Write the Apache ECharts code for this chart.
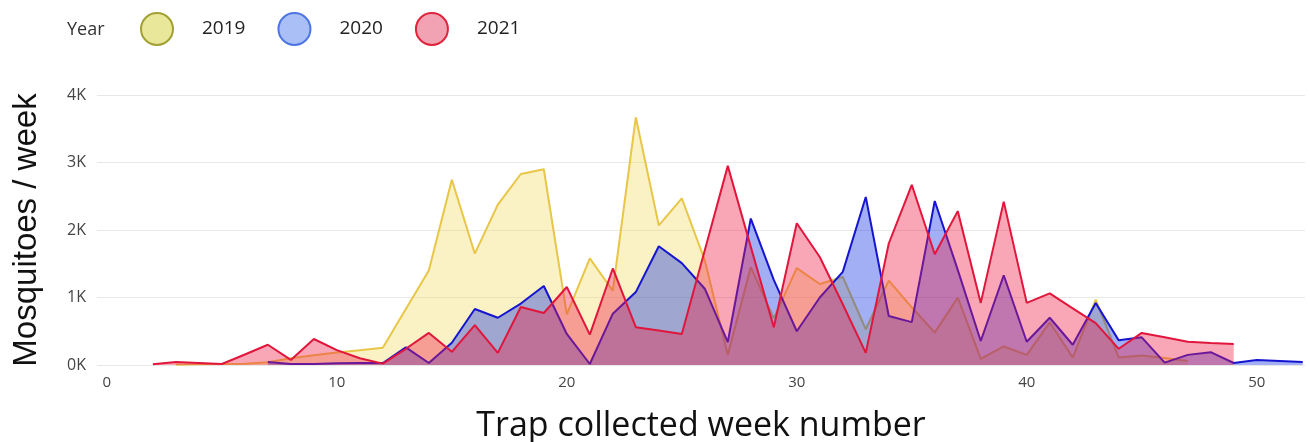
<!DOCTYPE html>
<html>
<head>
<meta charset="utf-8">
<script src="https://cdn.jsdelivr.net/npm/echarts@6/dist/echarts.min.js"></script>
<style>
  html, body { margin: 0; padding: 0; background: #ffffff; }
  #chart { width: 1310px; height: 442px; }
</style>
</head>
<body>
<div id="chart"></div>
<script>
// ---- Data ----
const years = ['2019', '2020', '2021'];

const weeks2019 = [3,4,5,6,7,8,9,10,11,12,13,14,15,16,17,18,19,20,21,22,23,24,25,26,27,28,29,30,31,32,33,34,35,36,37,38,39,40,41,42,43,44,45,46,47];
const values2019 = [5,10,15,20,40,100,145,185,220,255,830,1400,2745,1650,2375,2830,2900,750,1580,1100,3670,2070,2470,1550,150,1450,690,1435,1200,1305,530,1250,855,480,1000,90,275,150,630,110,970,110,140,105,60];

const weeks2020 = [7,8,9,10,11,12,13,14,15,16,17,18,19,20,21,22,23,24,25,26,27,28,29,30,31,32,33,34,35,36,37,38,39,40,41,42,43,44,45,46,47,48,49,50,51,52];
const values2020 = [45,15,15,25,30,30,260,30,330,830,700,910,1170,460,15,760,1080,1760,1510,1130,340,2170,1260,500,1000,1380,2490,725,635,2430,1410,355,1330,345,700,300,920,365,410,35,150,190,30,75,60,45];

const weeks2021 = [2,3,4,5,6,7,8,9,10,11,12,13,14,15,16,17,18,19,20,21,22,23,24,25,26,27,28,29,30,31,32,33,34,35,36,37,38,39,40,41,42,43,44,45,46,47,48,49];
const values2021 = [10,45,30,15,155,300,75,385,220,100,20,240,475,195,590,180,860,770,1155,450,1430,560,510,460,1700,2950,1750,560,2100,1600,900,180,1800,2670,1640,2280,920,2420,920,1060,840,620,240,475,410,345,325,310];

const yTicks = [0, 1000, 2000, 3000, 4000];
const xTickLabels = [0, 10, 20, 30, 40, 50];

function pairs(ws, vs) { return ws.map((w, i) => [w, vs[i]]); }

const chart = echarts.init(document.getElementById('chart'), null, { renderer: 'canvas' });

const option = {
  animation: false,
  backgroundColor: '#ffffff',
  textStyle: { fontFamily: 'Open Sans' },
  graphic: [{
    type: 'text',
    left: 67,
    top: 21,
    style: { text: 'Year', fontSize: 18, fontFamily: 'Open Sans', fill: '#333333' }
  }],
  legend: {
    left: 135,
    top: 7,
    itemWidth: 32,
    itemHeight: 32,
    itemGap: 32,
    icon: 'circle',
    textStyle: { fontSize: 19, color: '#222222', fontFamily: 'Open Sans', padding: [0, 0, 0, 24] },
    data: [
      { name: years[0], itemStyle: { color: '#e9e79a', borderColor: '#a3a033', borderWidth: 2 } },
      { name: years[1], itemStyle: { color: '#a9bff5', borderColor: '#4d76e3', borderWidth: 2 } },
      { name: years[2], itemStyle: { color: '#f2a3b3', borderColor: '#e0243c', borderWidth: 2 } }
    ]
  },
  grid: { left: 97, right: 5, top: 95, bottom: 77, containLabel: false, outerBoundsMode: 'none' },
  xAxis: {
    type: 'value',
    min: -0.43,
    max: 52.1,
    splitNumber: 5,
    name: 'Trap collected week number',
    nameLocation: 'middle',
    nameGap: 44,
    nameTextStyle: { fontSize: 34, color: '#111111', fontFamily: 'Open Sans' },
    axisLine: { show: false },
    axisTick: { show: false },
    splitLine: { show: false },
    axisLabel: {
      fontSize: 15,
      color: '#444444',
      margin: 10,
      formatter: function (v) {
        return xTickLabels.indexOf(Math.round(v * 1000) / 1000) >= 0 ? String(v) : '';
      }
    }
  },
  yAxis: {
    type: 'value',
    min: yTicks[0],
    max: yTicks[yTicks.length - 1],
    interval: 1000,
    name: 'Mosquitoes / week',
    nameLocation: 'middle',
    nameGap: 54,
    nameTextStyle: { fontSize: 33, color: '#111111', fontFamily: 'Liberation Sans' },
    axisLine: { show: false },
    axisTick: { show: false },
    splitLine: { lineStyle: { color: '#e8e8e8', width: 1 } },
    axisLabel: {
      fontSize: 16,
      color: '#444444',
      margin: 11,
      formatter: function (v) { return (v / 1000) + 'K'; }
    }
  },
  series: [
    {
      name: years[0],
      type: 'line',
      data: pairs(weeks2019, values2019),
      showSymbol: false,
      symbol: 'none',
      lineStyle: { color: '#e8c647', width: 2 },
      itemStyle: { color: '#e8c647' },
      areaStyle: { color: 'rgba(240, 215, 90, 0.5)' },
      z: 2
    },
    {
      name: years[1],
      type: 'line',
      data: pairs(weeks2020, values2020),
      showSymbol: false,
      symbol: 'none',
      lineStyle: { color: '#1515d0', width: 2 },
      itemStyle: { color: '#1515d0' },
      areaStyle: { color: 'rgba(0, 35, 225, 0.52)' },
      z: 3
    },
    {
      name: years[2],
      type: 'line',
      data: pairs(weeks2021, values2021),
      showSymbol: false,
      symbol: 'none',
      lineStyle: { color: '#e0163c', width: 2 },
      itemStyle: { color: '#e0163c' },
      areaStyle: { color: 'rgba(240, 30, 70, 0.56)' },
      z: 4
    }
  ]
};

chart.setOption(option);
</script>
</body>
</html>
